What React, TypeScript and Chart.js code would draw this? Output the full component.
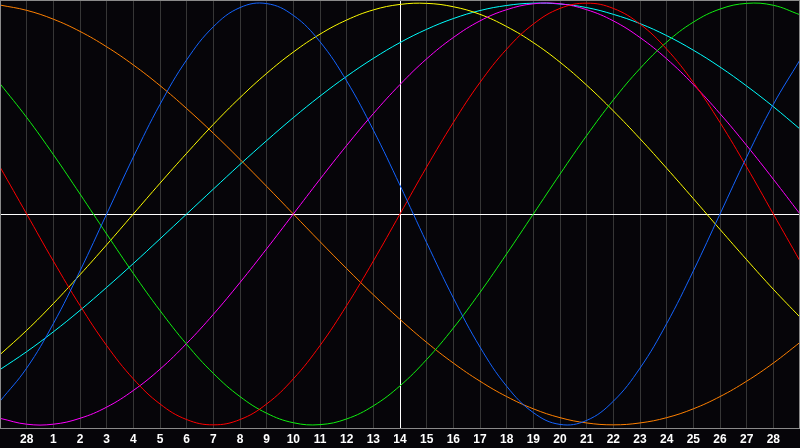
import { useEffect, useRef } from "react"
import { Chart, registerables } from "chart.js"

Chart.register(...registerables)

// x axis: one slot per day, first/last slot unlabeled
const dayLabels = [
  "", "28", "1", "2", "3", "4", "5", "6", "7", "8", "9", "10", "11", "12", "13", "14",
  "15", "16", "17", "18", "19", "20", "21", "22", "23", "24", "25", "26", "27", "28", "",
]

const todayIndex = 15

// cycle values, -1..1
const physical = [
  -0.888, -0.731, -0.52, -0.27, 0, 0.27, 0.52, 0.731, 0.888, 0.979, 0.998, 0.942, 0.817, 0.631, 0.398, 0.136,
  -0.136, -0.398, -0.631, -0.817, -0.942, -0.998, -0.979, -0.888, -0.731, -0.52, -0.27, 0, 0.27, 0.52, 0.731,
]
const emotional = [
  0.223, 0, -0.223, -0.434, -0.624, -0.782, -0.901, -0.975, -1, -0.975, -0.901, -0.782, -0.624, -0.434, -0.223, 0,
  0.223, 0.434, 0.624, 0.782, 0.901, 0.975, 1, 0.975, 0.901, 0.782, 0.624, 0.434, 0.223, 0, -0.223,
]
const intellectual = [
  0.618, 0.458, 0.282, 0.095, -0.095, -0.282, -0.458, -0.618, -0.756, -0.866, -0.945, -0.99, -0.999, -0.972, -0.91, -0.815,
  -0.69, -0.541, -0.372, -0.189, 0, 0.189, 0.372, 0.541, 0.69, 0.815, 0.91, 0.972, 0.999, 0.99, 0.945,
]
const intuitive = [
  -0.969, -0.997, -0.997, -0.969, -0.916, -0.837, -0.736, -0.614, -0.476, -0.325, -0.165, 0, 0.165, 0.325, 0.476, 0.614,
  0.736, 0.837, 0.916, 0.969, 0.997, 0.997, 0.969, 0.916, 0.837, 0.736, 0.614, 0.476, 0.325, 0.165, 0,
]
const aesthetic = [
  -0.667, -0.552, -0.425, -0.288, -0.146, 0, 0.146, 0.288, 0.425, 0.552, 0.667, 0.768, 0.853, 0.92, 0.968, 0.994,
  0.999, 0.983, 0.947, 0.889, 0.813, 0.72, 0.611, 0.489, 0.357, 0.217, 0.073, -0.073, -0.217, -0.357, -0.489,
]
const awareness = [
  0.991, 0.966, 0.924, 0.866, 0.793, 0.707, 0.609, 0.5, 0.383, 0.259, 0.131, 0, -0.131, -0.259, -0.383, -0.5,
  -0.609, -0.707, -0.793, -0.866, -0.924, -0.966, -0.991, -1, -0.991, -0.966, -0.924, -0.866, -0.793, -0.707, -0.609,
]
const spiritual = [
  -0.738, -0.653, -0.559, -0.457, -0.348, -0.235, -0.118, 0, 0.118, 0.235, 0.348, 0.457, 0.559, 0.653, 0.738, 0.813,
  0.876, 0.927, 0.965, 0.989, 1, 0.996, 0.979, 0.947, 0.903, 0.846, 0.777, 0.697, 0.607, 0.509, 0.403,
]

const seriesNames = ["Physical", "Emotional", "Intellectual", "Intuitive", "Aesthetic", "Awareness", "Spiritual"]
const seriesColors = ["#1464ff", "#ff0000", "#10f010", "#ff00ff", "#ffff00", "#ff8000", "#00ffff"]
const seriesValues = [physical, emotional, intellectual, intuitive, aesthetic, awareness, spiritual]

const frame = {
  id: "frame",
  afterDraw(chart: any) {
    const { ctx, chartArea } = chart
    ctx.save()
    ctx.strokeStyle = "#8a8a8a"
    ctx.lineWidth = 1
    ctx.strokeRect(chartArea.left + 0.5, chartArea.top + 0.5, chartArea.right - chartArea.left - 1, chartArea.bottom - chartArea.top)
    ctx.restore()
  },
}

function Biorhythm() {
  const chartRef = useRef<HTMLCanvasElement>(null)
  const chartInstance = useRef<Chart | null>(null)

  useEffect(() => {
    if (!chartRef.current) return
    const ctx = chartRef.current.getContext("2d")
    if (!ctx) return

    chartInstance.current = new Chart(ctx, {
      type: "line",
      data: {
        labels: dayLabels,
        datasets: seriesValues.map((values, i) => ({
          label: seriesNames[i],
          data: values,
          borderColor: seriesColors[i],
          borderWidth: 1,
          pointRadius: 0,
          tension: 0.4,
          fill: false,
        })),
      },
      options: {
        responsive: false,
        animation: false,
        layout: { padding: 0 },
        plugins: {
          legend: { display: false },
          tooltip: { enabled: false },
        },
        scales: {
          x: {
            offset: false,
            afterFit: (scale: any) => {
              // full-width plot: no side padding for the edge labels
              scale.height = 20
              scale.paddingLeft = 0
              scale.paddingRight = 0
            },
            grid: {
              drawTicks: false,
              color: (c: any) => (c.index === todayIndex ? "#ffffff" : "#363636"),
            },
            border: { display: false },
            ticks: {
              autoSkip: false,
              maxRotation: 0,
              padding: 4,
              color: "#ffffff",
              font: { family: "Liberation Sans", size: 12, weight: "bold" },
            },
          },
          y: {
            min: -1.015,
            max: 1.015,
            afterFit: (scale: any) => {
              scale.width = 0
            },
            grid: {
              drawTicks: false,
              color: (c: any) => (c.tick && c.tick.value === 0 ? "#ffffff" : "transparent"),
            },
            border: { display: false },
            ticks: { display: false, stepSize: 0.5 },
          },
        },
      },
      plugins: [frame],
    })

    return () => {
      if (chartInstance.current) {
        chartInstance.current.destroy()
      }
    }
  }, [])

  return <canvas ref={chartRef} width={800} height={448} style={{ display: "block" }} />
}

export default function App() {
  return (
    <div style={{ position: "fixed", left: 0, top: 0, width: 800, height: 448, background: "#060509" }}>
      <Biorhythm />
    </div>
  )
}
